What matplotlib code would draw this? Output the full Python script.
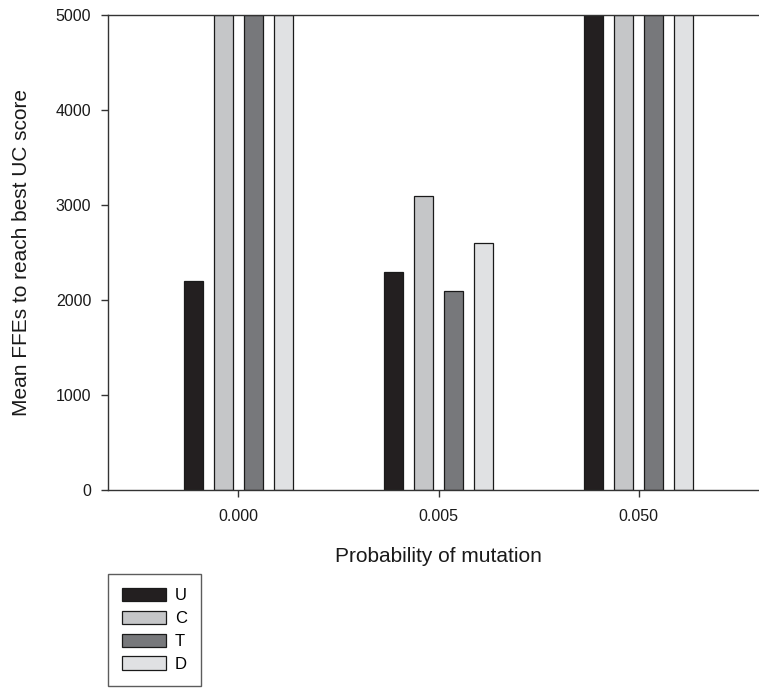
#!/usr/bin/env python3
"""Grouped bar chart: mean FFEs to reach best UC score vs probability of mutation."""
import matplotlib
matplotlib.use("Agg")
import matplotlib.pyplot as plt
import numpy as np

plt.rcParams["font.family"] = ["Liberation Sans", "DejaVu Sans"]

# Data
mutation_probs = ["0.000", "0.005", "0.050"]
series_names = ["U", "C", "T", "D"]
u_vals = [2200, 2300, 5000]
c_vals = [5000, 3100, 5000]
t_vals = [5000, 2100, 5000]
d_vals = [5000, 2600, 5000]

COLORS = {
    "U": "#231f20",
    "C": "#c5c6c8",
    "T": "#77787b",
    "D": "#e0e1e3",
}
INK = "#1a1a1a"


def main():
    fig = plt.figure(figsize=(7.59, 6.89), dpi=100)
    ax = fig.add_axes([108 / 759, 1 - 490 / 689, 650 / 759, 475 / 689])

    x = np.arange(len(mutation_probs))
    width = 0.095
    step = 0.15
    offsets = (np.arange(len(series_names)) - 1.5) * step
    handles = []
    for name, vals, off in zip(series_names, [u_vals, c_vals, t_vals, d_vals], offsets):
        h = ax.bar(x + off, vals, width, color=COLORS[name], edgecolor=INK,
                   linewidth=0.9, label=name, zorder=2)
        handles.append(h)

    ax.set_xlim(-0.65, 2.595)
    ax.set_ylim(0, 5000)
    ax.set_yticks([0, 1000, 2000, 3000, 4000, 5000])
    ax.set_xticks(x)
    ax.set_xticklabels(mutation_probs)

    for side in ["left", "bottom", "top"]:
        ax.spines[side].set_color("#333333")
        ax.spines[side].set_linewidth(1.0)
    ax.spines["right"].set_visible(False)

    ax.tick_params(axis="both", direction="out", length=5, width=1.0,
                   color="#333333", labelsize=11.5, labelcolor=INK)
    ax.tick_params(axis="x", pad=8.5, top=False)
    ax.tick_params(axis="y", pad=7)

    ax.set_xlabel("Probability of mutation", fontsize=15, color=INK)
    ax.xaxis.set_label_coords(0.509, -0.12)
    ax.set_ylabel("Mean FFEs to reach best UC score", fontsize=15, labelpad=18,
                  color=INK)

    leg = ax.legend(handles=handles, labels=series_names, loc="upper left",
                    bbox_to_anchor=(0.0, -0.176), borderaxespad=0.0,
                    fontsize=12, frameon=True, fancybox=False, shadow=False,
                    handlelength=2.6, handleheight=0.84, handletextpad=0.55,
                    labelspacing=0.45, borderpad=0.85)
    leg.get_frame().set_edgecolor("#333333")
    leg.get_frame().set_linewidth(1.0)

    fig.savefig("out.png", dpi=100)


if __name__ == "__main__":
    main()
